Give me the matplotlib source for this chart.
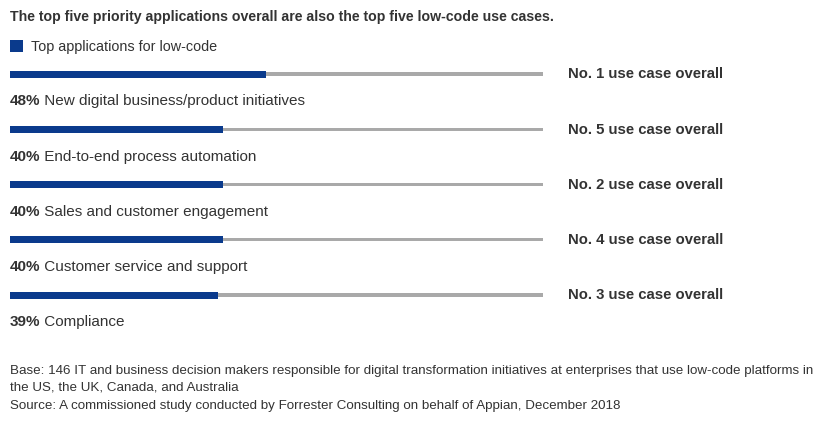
import numpy as np
import matplotlib
matplotlib.use("Agg")
import matplotlib.pyplot as plt
from matplotlib.transforms import offset_copy

plt.rcParams['font.family'] = ['Liberation Sans', 'DejaVu Sans']

# Data
categories = [
    "New digital business/product initiatives",
    "End-to-end process automation",
    "Sales and customer engagement",
    "Customer service and support",
    "Compliance",
]
shares = [48, 40, 40, 40, 39]
overall_rank = [1, 5, 2, 4, 3]

title = "The top five priority applications overall are also the top five low-code use cases."
legend_label = "Top applications for low-code"
footnote_lines = [
    "Base: 146 IT and business decision makers responsible for digital transformation initiatives at enterprises that use low-code platforms in",
    "the US, the UK, Canada, and Australia",
    "Source: A commissioned study conducted by Forrester Consulting on behalf of Appian, December 2018",
]

BLUE = "#0a3a8c"
GRAY = "#a9a9a9"
TEXT = "#333333"

W, H = 832, 425
fig = plt.figure(figsize=(W / 100, H / 100), dpi=100)

# bars axes: x from 10px to 543px, rows centred at 74 + 55.25*i px
row_gap = 55.25
top_px = 74 - 0.25 * row_gap
bot_px = 74 + 4.25 * row_gap
ax = fig.add_axes([10 / W, 1 - bot_px / H, 533 / W, (bot_px - top_px) / H])
ax.set_xlim(0, 100)
ax.set_ylim(4.25, -0.25)
ax.axis('off')

rows = np.arange(len(categories))
ax.barh(rows, [100] * len(rows), height=3.5 / row_gap, color=GRAY)
bars = ax.barh(rows, shares, height=7 / row_gap, color=BLUE)

fig.canvas.draw()
renderer = fig.canvas.get_renderer()
for i, (cat, val, rank) in enumerate(zip(categories, shares, overall_rank)):
    y_lab = i + 31.3 / row_gap
    t = ax.text(0, y_lab, f"{val}%", fontsize=11, fontweight='bold',
                color=TEXT, va='baseline', ha='left')
    w = t.get_window_extent(renderer).width
    ax.text(0, y_lab, " " + cat, fontsize=11, color=TEXT, va='baseline', ha='left',
            transform=offset_copy(ax.transData, fig=fig, x=w, y=0, units='dots'))
    ax.text(104.7, i + 4.3 / row_gap, f"No. {rank} use case overall", fontsize=10.7,
            fontweight='bold', color=TEXT, va='baseline', ha='left', clip_on=False)

fig.text(10 / W, 1 - 21.5 / H, title, fontsize=10.2, fontweight='bold', color=TEXT,
         va='baseline', ha='left')

fig.legend(handles=[bars], labels=[legend_label], loc='center left',
           bbox_to_anchor=(10 / W, 1 - 46.5 / H), frameon=False, fontsize=10.4,
           handlelength=0.9, handleheight=0.9, handletextpad=0.55, borderpad=0,
           borderaxespad=0, labelcolor=TEXT)

for line, y_px in zip(footnote_lines, [374, 390.5, 408.5]):
    fig.text(10 / W, 1 - y_px / H, line, fontsize=9.65, color=TEXT, va='baseline', ha='left')

fig.savefig("out.png", dpi=100, facecolor='white')
